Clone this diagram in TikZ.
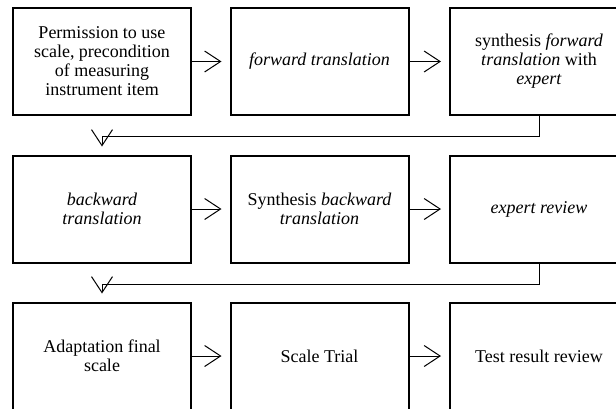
\documentclass[tikz,border=0pt]{standalone}
\usepackage{fontspec}
\setmainfont{Liberation Serif}
\usetikzlibrary{arrows.meta}
\tikzset{
  stepbox/.style={draw, line width=2pt, minimum width=178pt, minimum height=107pt,
    align=center, inner sep=2pt, font=\fontsize{18pt}{19pt}\selectfont},
  conn/.style={line width=1pt, -{Straight Barb[length=16pt,width=21pt,line width=1pt]}},
}
\begin{document}
\begin{tikzpicture}[x=1pt,y=-1pt]
\useasboundingbox (0,0) rectangle (616,408);
\clip (0,0) rectangle (616,408);
\node[stepbox] (b1) at (102,61.5) {Permission to use\\scale, precondition\\of measuring\\instrument item};
\node[stepbox] (b2) at (319.5,61.5) {\textit{forward translation}};
\node[stepbox] (b3) at (539,61.5) {synthesis \textit{forward}\\\textit{translation} with\\\textit{expert}};
\node[stepbox] (b4) at (102,209) {\textit{backward}\\\textit{translation}};
\node[stepbox] (b5) at (319.5,209) {Synthesis \textit{backward}\\\textit{translation}};
\node[stepbox] (b6) at (539,209) {\textit{expert review}};
\node[stepbox] (b7) at (102,356) {Adaptation final\\scale};
\node[stepbox] (b8) at (319.5,356) {Scale Trial};
\node[stepbox] (b9) at (539,356) {Test result review};
\draw[conn, shorten >=8pt] (b1) -- (b2);
\draw[conn, shorten >=8pt] (b2) -- (b3);
\draw[conn, shorten >=8pt] (b4) -- (b5);
\draw[conn, shorten >=8pt] (b5) -- (b6);
\draw[conn, shorten >=8pt] (b7) -- (b8);
\draw[conn, shorten >=8pt] (b8) -- (b9);
\draw[conn, shorten >=8pt] (b3.south) -- ++(0,20.5) -| (b4.north);
\draw[conn, shorten >=8pt] (b6.south) -- ++(0,20.5) -| (b7.north);
\end{tikzpicture}
\end{document}
